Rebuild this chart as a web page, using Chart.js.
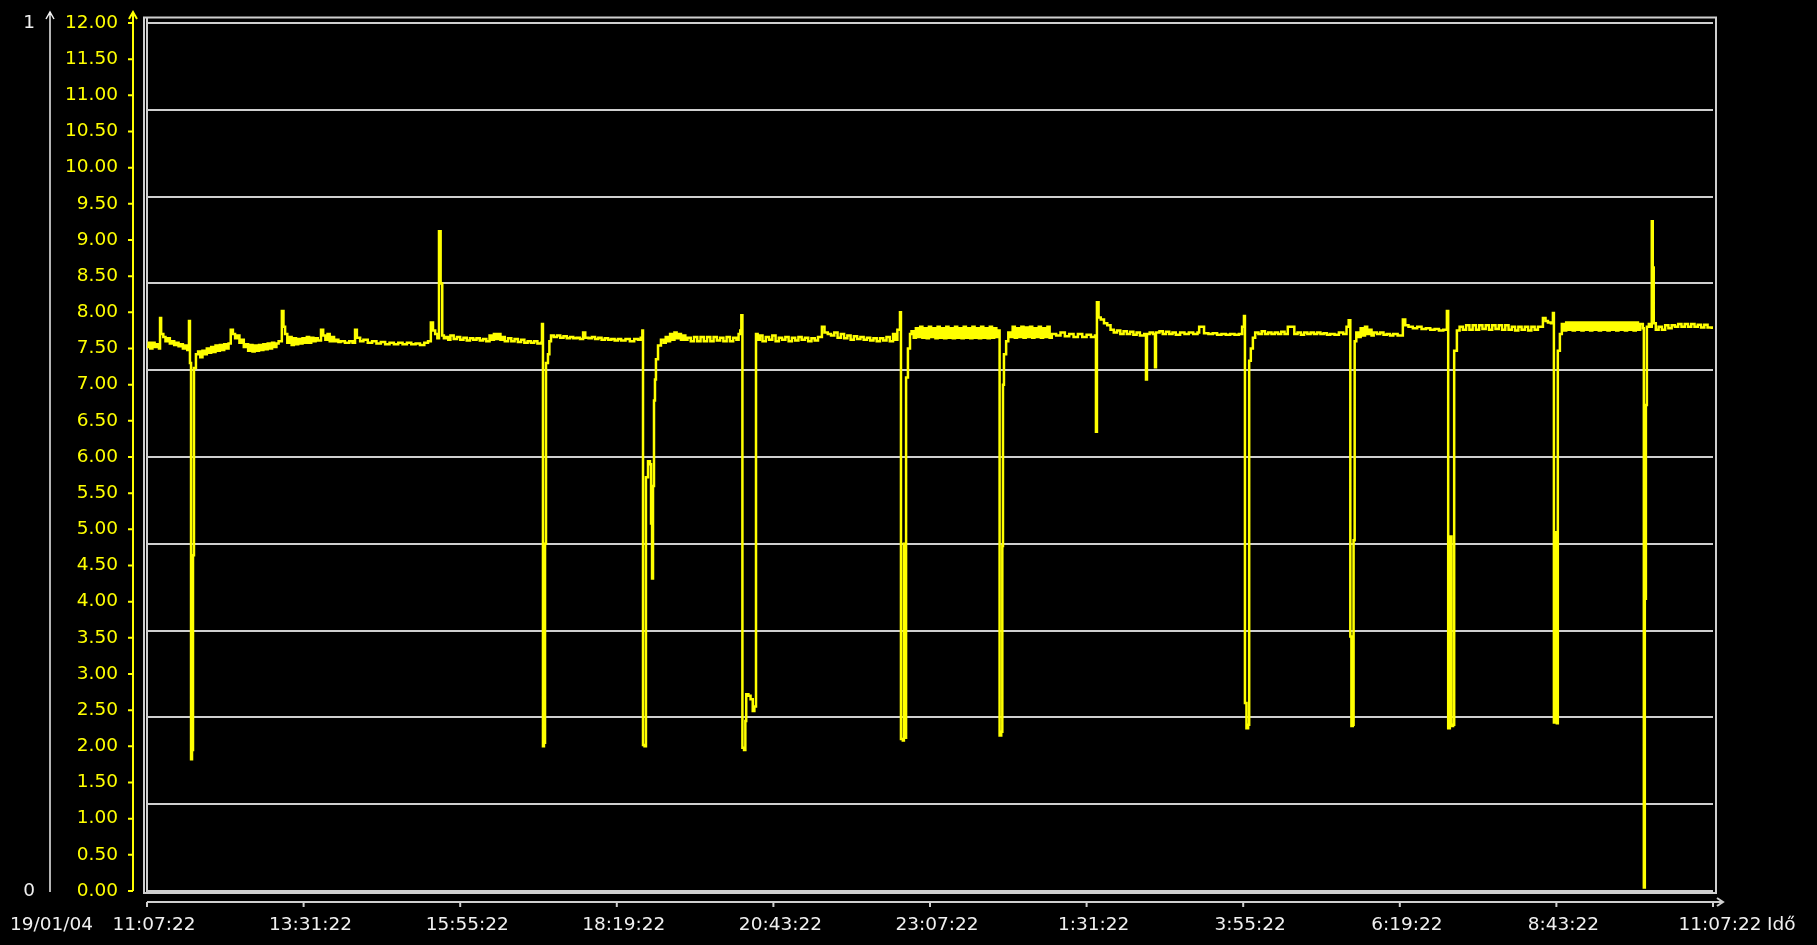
<!DOCTYPE html>
<html>
<head>
<meta charset="utf-8">
<script src="https://cdn.jsdelivr.net/npm/chart.js@4.4.1/dist/chart.umd.min.js"></script>
<style>
  html, body { margin: 0; padding: 0; background: #000; }
  canvas { display: block; }
</style>
</head>
<body>
<canvas id="myChart" width="1817" height="945"></canvas>
<script>
// minutes since 11:07:22 on 19/01/04
const sampleMinutes = [
  0, 1.5, 3, 5, 7, 9, 11, 12, 13, 15, 17, 19, 21, 23, 25, 27, 29, 31, 33, 35, 37,
  38.6, 39.5, 40.5, 41.4, 42.3, 43.2, 45, 47, 49, 51, 53, 55, 57, 59, 61, 63, 65, 67, 69, 71, 73, 75,
  77, 79, 81, 83, 85, 87, 89, 91, 93, 95, 97, 99, 101, 103, 105, 107, 109, 111, 113, 115, 117, 119, 121,
  124, 125.5, 127, 129, 131, 133, 135, 137, 139, 141, 143, 145, 147, 149, 151, 153, 155, 157,
  160, 162, 164, 166, 168, 170, 172, 174, 176, 178, 182, 186, 189, 191.3, 193, 196, 199, 203, 207, 211,
  215, 219, 223, 227, 231, 235, 239, 243, 247, 251, 255, 258.4, 261, 263, 265, 267, 268.5, 270, 271.5,
  273, 275, 277, 279, 282, 285, 288, 291, 294, 297, 300, 303, 306, 309, 312, 315, 317, 319, 321, 323,
  325, 327, 329, 332, 335, 338, 341, 344, 347, 350, 353, 356, 359, 362.3, 363.2, 364.1, 365, 366, 366.9,
  368.7, 370, 371.5, 374, 377, 380, 383, 386, 389, 392, 395, 398, 401, 403, 406, 409, 412, 415, 418,
  421, 424, 427, 430, 433, 436, 440, 444, 448, 451.5, 454, 455.5, 456.1, 457.5, 458.8, 460.7, 462.5,
  463.5, 464.4, 465.3, 466.2, 467.1, 468, 469.9, 472.6, 475, 477, 479, 481, 483, 485, 487, 489, 491,
  493, 495, 497, 500, 503, 506, 509, 512, 515, 518, 521, 524, 527, 530, 533, 536, 539, 542, 544, 545.5,
  546.5, 547.5, 549, 550.2, 551, 553, 555, 557, 558.5, 560, 561.5, 563.6, 566, 569, 572, 575, 578, 581,
  584, 587, 590, 593, 596, 599, 602, 605, 608, 611, 614, 617, 620.6, 623, 626, 629, 632, 635, 638, 641,
  644, 647, 650, 653, 656, 659, 662, 665, 668, 671, 674, 677, 680, 683, 686, 688, 690, 692.4, 693.3,
  695, 696, 697, 698, 699.7, 701.6, 703, 705, 707, 709, 711, 713, 715, 717, 719, 721, 723, 725, 727,
  729, 731, 733, 735, 737, 739, 741, 743, 745, 747, 749, 751, 753, 755, 757, 759, 761, 763, 765, 767,
  769, 771, 773, 775, 777, 779, 781, 782.5, 784, 785.5, 786.5, 787.1, 788, 790, 792, 794, 796, 798,
  800, 802, 804, 806, 808, 810, 812, 814, 816, 818, 820, 822, 824, 826, 828, 830, 832, 836, 840, 844,
  848, 852, 856, 860, 864, 868, 871.7, 872.6, 873.5, 875, 877, 880, 883, 886, 889, 892, 895, 898, 901,
  904, 907, 910, 913, 917, 918.6, 919.5, 922, 925, 926.9, 927.8, 931, 934, 937, 940, 943, 946, 950,
  954, 958, 962, 966, 967.5, 971, 972, 976, 980, 984, 988, 992, 996, 1000, 1004, 1007, 1008.7, 1009.6,
  1011, 1012.5, 1013.5, 1015, 1016.9, 1019, 1022, 1025, 1028, 1031, 1034, 1037, 1040, 1043, 1046, 1049,
  1053, 1055, 1058, 1061, 1064, 1067, 1070, 1073, 1076, 1079, 1082, 1085, 1088, 1092, 1096, 1100, 1103,
  1105, 1106.5, 1107.5, 1108.8, 1109.5, 1110.5, 1112, 1114, 1116, 1118, 1120, 1122, 1124, 1126, 1128,
  1131, 1134, 1137, 1140, 1143, 1146, 1150, 1154.8, 1157, 1160, 1164, 1168, 1172, 1176, 1180, 1184,
  1188, 1192, 1195.3, 1196.5, 1198, 1199.5, 1201, 1202, 1204.5, 1207, 1210, 1213, 1216, 1219, 1222,
  1225, 1228, 1231, 1234, 1237, 1240, 1243, 1246, 1249, 1252, 1255, 1258, 1261, 1264, 1267, 1270, 1273,
  1276, 1279, 1283.6, 1286, 1288.2, 1291, 1292.8, 1293.7, 1295, 1296.4, 1297.3, 1299.2, 1301, 1303,
  1305, 1307, 1309, 1311, 1313, 1315, 1317, 1319, 1321, 1323, 1325, 1327, 1329, 1331, 1333, 1335, 1337,
  1339, 1341, 1343, 1345, 1347, 1349, 1351, 1353, 1355, 1357, 1359, 1361, 1363, 1365, 1367, 1369, 1371,
  1373, 1375.5, 1376.4, 1377.3, 1378.3, 1379.2, 1381, 1382.8, 1383.7, 1384.6, 1385.5, 1387.4, 1390,
  1393, 1396, 1399, 1402, 1405, 1408, 1411, 1414, 1417, 1420, 1423, 1426, 1429, 1432, 1435, 1438.9
];

const phValues = [
  7.52, 7.58, 7.5, 7.58, 7.52, 7.56, 7.5, 7.92, 7.7, 7.66, 7.6, 7.64, 7.57, 7.6, 7.55, 7.58, 7.53, 7.56, 7.5, 7.54, 7.48,
  7.88, 7.3, 1.82, 1.95, 4.64, 7.23, 7.42, 7.46, 7.38, 7.47, 7.42, 7.5, 7.44, 7.52, 7.45, 7.54, 7.47, 7.55, 7.48, 7.56, 7.5, 7.57,
  7.76, 7.7, 7.64, 7.68, 7.58, 7.62, 7.52, 7.56, 7.47, 7.55, 7.46, 7.54, 7.47, 7.55, 7.48, 7.56, 7.49, 7.57, 7.5, 7.58, 7.52, 7.57, 7.6,
  8.02, 7.8, 7.7, 7.58, 7.66, 7.55, 7.64, 7.56, 7.63, 7.57, 7.64, 7.58, 7.66, 7.58, 7.65, 7.6, 7.64, 7.61,
  7.76, 7.68, 7.62, 7.7, 7.6, 7.66, 7.6, 7.62, 7.59, 7.6, 7.58, 7.6, 7.58, 7.76, 7.65, 7.6, 7.62, 7.58, 7.6, 7.57,
  7.59, 7.56, 7.58, 7.56, 7.58, 7.56, 7.58, 7.56, 7.57, 7.55, 7.58, 7.6, 7.86, 7.75, 7.7, 7.64, 9.12, 8.4, 7.68,
  7.64, 7.66, 7.62, 7.68, 7.63, 7.66, 7.62, 7.65, 7.61, 7.64, 7.62, 7.64, 7.61, 7.63, 7.6, 7.68, 7.62, 7.7, 7.63, 7.7,
  7.62, 7.66, 7.6, 7.64, 7.6, 7.63, 7.59, 7.62, 7.58, 7.6, 7.58, 7.6, 7.57, 7.58, 7.84, 2.0, 2.05, 4.8, 7.3,
  7.42, 7.6, 7.68, 7.66, 7.68, 7.65, 7.67, 7.64, 7.66, 7.64, 7.65, 7.63, 7.72, 7.65, 7.64, 7.66, 7.63, 7.65, 7.62,
  7.64, 7.62, 7.63, 7.61, 7.63, 7.61, 7.63, 7.6, 7.63, 7.62, 7.65, 7.75, 2.02, 2.0, 5.72, 5.94, 5.9,
  5.08, 4.32, 5.6, 6.78, 7.07, 7.35, 7.54, 7.62, 7.58, 7.66, 7.6, 7.7, 7.62, 7.72, 7.64, 7.7, 7.62,
  7.68, 7.62, 7.65, 7.6, 7.66, 7.6, 7.66, 7.6, 7.66, 7.6, 7.66, 7.61, 7.65, 7.6, 7.66, 7.6, 7.65, 7.62, 7.7, 7.75,
  7.96, 1.98, 1.95, 2.35, 2.72, 2.7, 2.65, 2.49, 2.55, 7.7, 7.62, 7.68, 7.6, 7.66, 7.62, 7.68, 7.6, 7.65,
  7.62, 7.66, 7.6, 7.65, 7.61, 7.66, 7.62, 7.65, 7.6, 7.64, 7.61, 7.66, 7.8, 7.72, 7.7, 7.68, 7.72, 7.65, 7.7, 7.64,
  7.68, 7.62, 7.67, 7.63, 7.66, 7.62, 7.65, 7.61, 7.64, 7.6, 7.64, 7.61, 7.66, 7.6, 7.7, 7.62, 7.76, 8.0, 2.1,
  2.08, 4.8, 2.12, 7.1, 7.5, 7.7, 7.74, 7.65, 7.78, 7.66, 7.8, 7.65, 7.78, 7.64, 7.8, 7.66, 7.78, 7.64, 7.8,
  7.65, 7.78, 7.64, 7.8, 7.65, 7.78, 7.64, 7.8, 7.65, 7.78, 7.64, 7.8, 7.65, 7.78, 7.64, 7.8, 7.65, 7.78, 7.64, 7.8,
  7.65, 7.78, 7.64, 7.8, 7.65, 7.78, 7.66, 7.75, 2.15, 2.2, 4.77, 7.0, 7.42, 7.6, 7.72, 7.66, 7.8, 7.65,
  7.78, 7.66, 7.8, 7.65, 7.79, 7.66, 7.8, 7.65, 7.78, 7.66, 7.8, 7.65, 7.78, 7.66, 7.8, 7.65, 7.7, 7.68, 7.72, 7.67,
  7.7, 7.66, 7.7, 7.66, 7.69, 7.66, 7.68, 6.35, 8.14, 7.93, 7.9, 7.85, 7.82, 7.76, 7.72, 7.75, 7.7, 7.74, 7.7,
  7.73, 7.69, 7.72, 7.68, 7.7, 7.07, 7.7, 7.72, 7.7, 7.24, 7.72, 7.74, 7.7, 7.73, 7.7, 7.72, 7.69, 7.72,
  7.7, 7.72, 7.7, 7.72, 7.8, 7.8, 7.71, 7.7, 7.71, 7.69, 7.7, 7.69, 7.7, 7.69, 7.7, 7.8, 7.95, 2.6,
  2.25, 2.3, 7.33, 7.5, 7.65, 7.72, 7.7, 7.74, 7.7, 7.72, 7.7, 7.72, 7.7, 7.73, 7.7, 7.8,
  7.8, 7.7, 7.72, 7.69, 7.72, 7.7, 7.72, 7.7, 7.72, 7.7, 7.71, 7.69, 7.7, 7.69, 7.72, 7.7, 7.8,
  7.89, 3.52, 2.28, 2.3, 4.85, 7.6, 7.72, 7.66, 7.78, 7.68, 7.8, 7.7, 7.76, 7.68, 7.72,
  7.7, 7.72, 7.69, 7.7, 7.68, 7.7, 7.68, 7.9, 7.82, 7.8, 7.78, 7.8, 7.77, 7.78, 7.76, 7.77,
  7.75, 7.76, 8.02, 2.25, 4.9, 2.28, 2.3, 7.47, 7.75, 7.8, 7.76, 7.82, 7.76, 7.82, 7.76,
  7.82, 7.77, 7.82, 7.76, 7.82, 7.77, 7.82, 7.76, 7.82, 7.76, 7.8, 7.75, 7.8, 7.76, 7.8, 7.75, 7.8,
  7.76, 7.8, 7.92, 7.88, 7.86, 7.85, 7.99, 2.33, 4.96, 2.32, 7.47, 7.7, 7.84, 7.75,
  7.86, 7.76, 7.86, 7.75, 7.86, 7.76, 7.86, 7.75, 7.86, 7.76, 7.86, 7.75, 7.86, 7.76, 7.86, 7.75, 7.86,
  7.76, 7.86, 7.75, 7.86, 7.76, 7.86, 7.75, 7.86, 7.76, 7.86, 7.75, 7.86, 7.76, 7.86, 7.75, 7.86, 7.76,
  7.84, 7.78, 0.05, 4.04, 6.72, 7.8, 7.84, 7.8, 9.26, 8.62, 7.85, 7.76, 7.8,
  7.76, 7.82, 7.78, 7.82, 7.8, 7.84, 7.8, 7.84, 7.8, 7.84, 7.8, 7.83, 7.79, 7.83, 7.79, 7.77
];

const xTickMinutes = [0, 144, 288, 432, 576, 720, 864, 1008, 1152, 1296, 1440];
const xTickLabels = ['11:07:22', '13:31:22', '15:55:22', '18:19:22', '20:43:22', '23:07:22',
  '1:31:22', '3:55:22', '6:19:22', '8:43:22', '11:07:22'];
const yTickValues = [0, 0.5, 1, 1.5, 2, 2.5, 3, 3.5, 4, 4.5, 5, 5.5, 6, 6.5, 7, 7.5, 8, 8.5, 9, 9.5,
  10, 10.5, 11, 11.5, 12];
const gridSteps = [0, 0.1, 0.2, 0.3, 0.4, 0.5, 0.6, 0.7, 0.8, 0.9, 1];
const dateLabel = '19/01/04';
const xAxisName = 'Idő';

const yellow = '#ffff00';
const white = '#f0f0f0';
const gridGrey = '#cfcfcf';
const labelFont = { family: 'DejaVu Sans', size: 18.5 };

const points = sampleMinutes.map((m, i) => ({ x: m, y: phValues[i] }));

// keep the vertical axes from pushing the plot area around
function fixWidth(w) {
  return s => {
    s.width = w;
    s.paddingTop = 0;
    s.paddingBottom = 0;
  };
}

const axisDecor = {
  id: 'axisDecor',
  beforeDatasetsDraw(chart) {
    const c = chart.ctx;
    const a = chart.chartArea;
    const xs = chart.scales.x;
    const ys = chart.scales.y;
    c.save();
    // double frame
    c.strokeStyle = gridGrey;
    c.lineWidth = 2;
    c.strokeRect(a.left - 3, a.top - 5.5, a.right - a.left + 6, a.bottom - a.top + 7.5);
    c.beginPath();
    c.moveTo(a.left, a.top - 5.5);
    c.lineTo(a.left, a.bottom + 1);
    c.stroke();

    // yellow value axis
    const yx = a.left - 14;
    c.strokeStyle = yellow;
    c.lineWidth = 2;
    c.beginPath();
    c.moveTo(yx, a.bottom);
    c.lineTo(yx, a.top - 10);
    c.moveTo(yx - 4, a.top - 4);
    c.lineTo(yx, a.top - 11);
    c.lineTo(yx + 4, a.top - 4);
    yTickValues.forEach(v => {
      const py = ys.getPixelForValue(v);
      c.moveTo(yx - 5, py);
      c.lineTo(yx, py);
    });
    c.stroke();

    // white 0..1 axis
    const wx = chart.scales.y1.right + 5;
    c.strokeStyle = white;
    c.lineWidth = 1.5;
    c.beginPath();
    c.moveTo(wx, a.bottom + 1);
    c.lineTo(wx, a.top - 10);
    c.moveTo(wx - 4, a.top - 4);
    c.lineTo(wx, a.top - 11);
    c.lineTo(wx + 4, a.top - 4);
    c.stroke();

    // time axis
    const ty = a.bottom + 11;
    c.strokeStyle = gridGrey;
    c.lineWidth = 2;
    c.beginPath();
    c.moveTo(a.left, ty);
    c.lineTo(a.right + 9, ty);
    c.moveTo(a.right + 4, ty - 4);
    c.lineTo(a.right + 10, ty);
    c.lineTo(a.right + 4, ty + 4);
    xTickMinutes.forEach(m => {
      const px = xs.getPixelForValue(m);
      c.moveTo(px, ty);
      c.lineTo(px, ty + 5);
    });
    c.stroke();

    // date and axis name
    c.fillStyle = white;
    c.font = labelFont.size + 'px "' + labelFont.family + '"';
    c.textBaseline = 'middle';
    c.textAlign = 'left';
    const labelY = a.bottom + 23 + labelFont.size * 0.6;
    c.fillText(dateLabel, 10, labelY);
    c.fillText(xAxisName, xs.getPixelForValue(1440) + 54, labelY);
    c.restore();
  }
};

const config = {
  type: 'line',
  data: {
    datasets: [{
      data: points,
      yAxisID: 'y',
      borderColor: yellow,
      borderWidth: 2.5,
      pointRadius: 0,
      stepped: true,
      fill: false
    }]
  },
  options: {
    responsive: false,
    animation: false,
    devicePixelRatio: 1,
    layout: { padding: { left: 0, top: 23, right: 104, bottom: 0 } },
    plugins: { legend: { display: false }, tooltip: { enabled: false } },
    scales: {
      x: {
        type: 'linear',
        min: 0,
        max: 1440,
        afterBuildTicks: s => { s.ticks = xTickMinutes.map(v => ({ value: v })); },
        afterFit: s => { s.height = 54; },
        ticks: {
          callback: (v, i) => xTickLabels[i],
          color: white,
          font: labelFont,
          padding: 23,
          labelOffset: 7,
          autoSkip: false,
          maxRotation: 0
        },
        grid: { display: false, drawTicks: false },
        border: { display: false }
      },
      y1: {
        position: 'left',
        weight: 1,
        min: 0,
        max: 1,
        afterBuildTicks: s => { s.ticks = gridSteps.map(v => ({ value: v })); },
        afterFit: fixWidth(45),
        ticks: {
          callback: v => (v === 0 ? '0' : v === 1 ? '1' : ''),
          color: white,
          font: labelFont,
          padding: 10
        },
        grid: { color: gridGrey, lineWidth: 2, drawTicks: false },
        border: { display: false }
      },
      y: {
        position: 'left',
        weight: 0,
        min: 0,
        max: 12,
        afterBuildTicks: s => { s.ticks = yTickValues.map(v => ({ value: v })); },
        afterFit: fixWidth(102),
        ticks: {
          callback: v => v.toFixed(2),
          color: yellow,
          font: labelFont,
          padding: 29
        },
        grid: { display: false, drawTicks: false },
        border: { display: false }
      }
    }
  },
  plugins: [axisDecor]
};

const myChart = new Chart(document.getElementById('myChart'), config);
</script>
</body>
</html>
